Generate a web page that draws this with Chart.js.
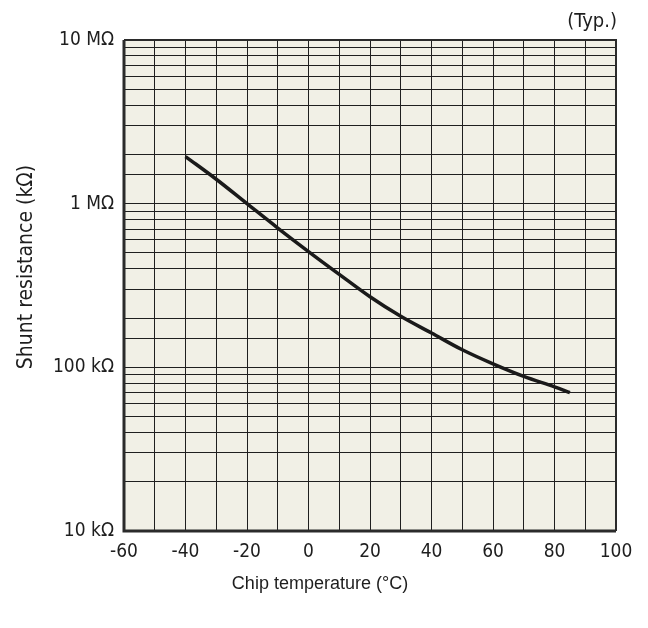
<!DOCTYPE html>
<html>
<head>
<meta charset="utf-8">
<script src="https://cdn.jsdelivr.net/npm/chart.js@4.4.0/dist/chart.umd.min.js"></script>
<style>
  body { margin: 0; background: #fff; }
  #wrap { width: 648px; height: 628px; }
</style>
</head>
<body>
<div id="wrap"><canvas id="myChart"></canvas></div>
<script>
// chip temperature (°C) and shunt resistance (kΩ)
let temps = [-40, -30, -20, -10, 0, 10, 20, 30, 40, 50, 60, 70, 80, 85];
let shuntRes = [1940, 1410, 1000, 710, 510, 370, 270, 205, 162, 128, 105, 88, 76, 70];

let xTickLabels = [-60, -40, -20, 0, 20, 40, 60, 80, 100];
let yTickValues = [10, 100, 1000, 10000];
let yTickLabels = ['10 kΩ', '100 kΩ', '1 MΩ', '10 MΩ'];

let xTitle = 'Chip temperature (°C)';
let yTitle = 'Shunt resistance (kΩ)';
let note = '(Typ.)';

let tickFont = { family: '"DejaVu Sans Condensed", "DejaVu Sans", sans-serif', size: 19 };

let points = [];
for (let i = 0; i < temps.length; i++) {
    points.push({ x: temps[i], y: shuntRes[i] });
}

// cream paper, frame and the free text
let paperPlugin = {
    id: 'paper',
    beforeDraw(chart) {
        let ctx = chart.ctx;
        let a = chart.chartArea;
        ctx.save();
        ctx.fillStyle = '#f1f0e6';
        ctx.fillRect(a.left, a.top, a.right - a.left, a.bottom - a.top);
        ctx.restore();
    },
    afterDraw(chart) {
        let ctx = chart.ctx;
        let a = chart.chartArea;
        ctx.save();
        ctx.strokeStyle = '#2b2b2b';
        ctx.lineWidth = 2;
        ctx.beginPath();
        ctx.moveTo(a.left, a.top);
        ctx.lineTo(a.right, a.top);
        ctx.lineTo(a.right, a.bottom);
        ctx.stroke();
        ctx.lineWidth = 3;
        ctx.beginPath();
        ctx.moveTo(a.left, a.top);
        ctx.lineTo(a.left, a.bottom);
        ctx.lineTo(a.right, a.bottom);
        ctx.stroke();

        ctx.fillStyle = '#1e1e1e';
        ctx.font = '20px "DejaVu Sans Condensed", "DejaVu Sans", sans-serif';
        ctx.textAlign = 'right';
        ctx.textBaseline = 'middle';
        ctx.fillText(note, a.right + 1, a.top - 18);

        ctx.font = '18px "Liberation Sans", Arial, sans-serif';
        ctx.textAlign = 'center';
        ctx.fillText(xTitle, chart.width / 2 - 4, 584);

        ctx.translate(27, 267);
        ctx.rotate(-Math.PI / 2);
        ctx.font = '21px "DejaVu Sans Condensed", "DejaVu Sans", sans-serif';
        ctx.fillText(yTitle, 0, 0);
        ctx.restore();
    }
};

let ctx = document.getElementById('myChart').getContext('2d');
let myChart = new Chart(ctx, {
    type: 'line',
    data: {
        datasets: [{
            label: 'Shunt resistance',
            data: points,
            borderColor: '#1a1a1a',
            borderWidth: 3.5,
            pointRadius: 0,
            fill: false,
            tension: 0.35
        }]
    },
    options: {
        responsive: true,
        maintainAspectRatio: false,
        animation: false,
        layout: {
            padding: { top: 40, right: 32, left: 0, bottom: 0 }
        },
        plugins: {
            legend: { display: false },
            tooltip: { enabled: false }
        },
        scales: {
            x: {
                type: 'linear',
                min: -60,
                max: 100,
                afterFit(scale) { scale.height = 97; },
                grid: { color: '#1f1f1f', lineWidth: 1, drawTicks: false },
                border: { display: false },
                ticks: {
                    stepSize: 10,
                    autoSkip: false,
                    maxRotation: 0,
                    padding: 10,
                    color: '#1e1e1e',
                    font: tickFont,
                    callback: function (v) {
                        return xTickLabels.includes(v) ? String(v) : '';
                    }
                }
            },
            y: {
                type: 'logarithmic',
                min: 10,
                max: 10000,
                afterFit(scale) { scale.width = 124; },
                grid: { color: '#1f1f1f', lineWidth: 1, drawTicks: false },
                border: { display: false },
                ticks: {
                    autoSkip: false,
                    padding: 10,
                    color: '#1e1e1e',
                    font: tickFont,
                    callback: function (v) {
                        for (let i = 0; i < yTickValues.length; i++) {
                            if (Math.abs(v - yTickValues[i]) < 1e-6) return yTickLabels[i];
                        }
                        return '';
                    }
                }
            }
        }
    },
    plugins: [paperPlugin]
});
</script>
</body>
</html>
